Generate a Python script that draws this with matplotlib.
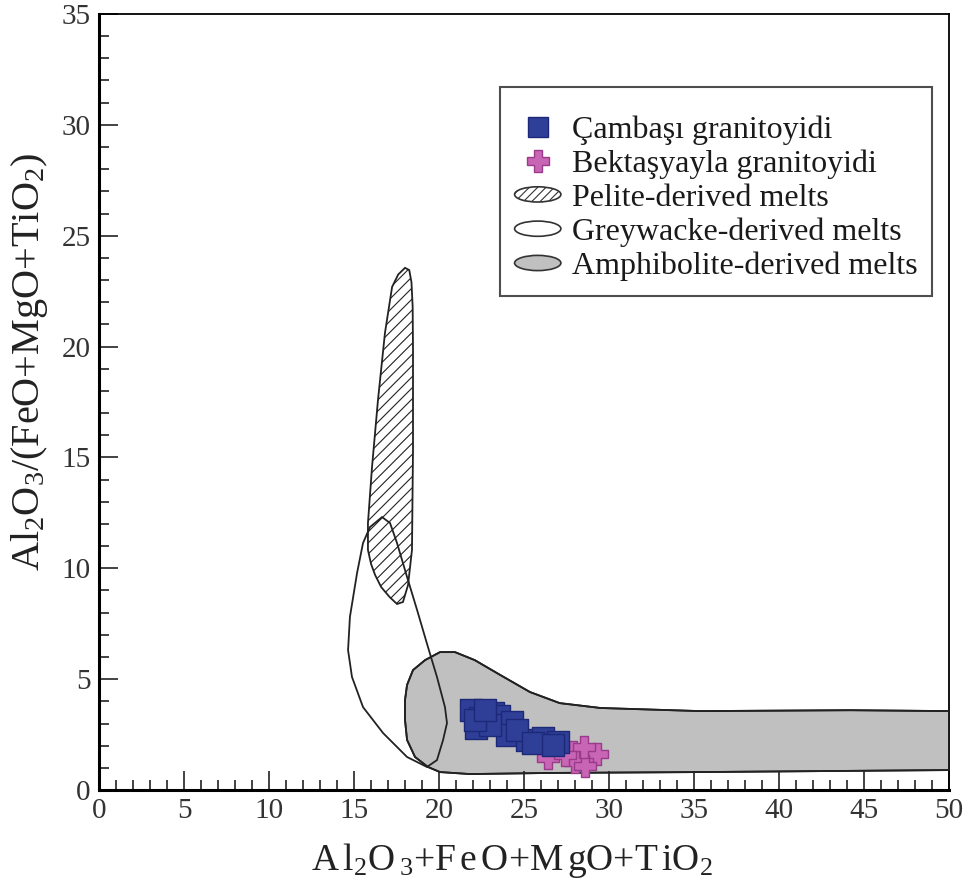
import numpy as np
import matplotlib
matplotlib.use('Agg')
import matplotlib.pyplot as plt
import matplotlib.patches as mpatches
from matplotlib.lines import Line2D
from matplotlib.legend_handler import HandlerPatch

plt.rcParams['font.family'] = ['Liberation Serif', 'DejaVu Serif']
plt.rcParams['mathtext.fontset'] = 'custom'
plt.rcParams['mathtext.rm'] = 'Liberation Serif'
plt.rcParams['mathtext.it'] = 'Liberation Serif:italic'
plt.rcParams['hatch.linewidth'] = 0.8

# Sample compositions: x = Al2O3+FeO+MgO+TiO2, y = Al2O3/(FeO+MgO+TiO2)
camb_x = [21.9, 22.4, 22.2, 23.2, 23.5, 24.3, 24.0, 25.2, 26.1, 24.6,
          25.5, 27.0, 23.0, 22.1, 22.7, 26.7]
camb_y = [3.61, 3.25, 2.80, 3.47, 3.34, 3.07, 2.48, 2.26, 2.35, 2.70,
          2.12, 2.17, 2.93, 3.16, 3.60, 2.03]

bekt_x = [26.4, 27.9, 28.6, 29.3, 28.0, 28.6, 28.5, 27.4]
bekt_y = [1.44, 1.71, 1.44, 1.62, 1.26, 1.08, 1.94, 1.58]

# Experimental melt fields (outline vertices)
pelite_x = [18.0, 17.6, 17.24, 16.82, 16.41, 16.06, 15.82, 15.82, 16.0,
            16.24, 16.6, 17.1, 17.53, 17.88, 18.18, 18.41, 18.47, 18.47,
            18.45, 18.38, 18.25]
pelite_y = [23.55, 23.25, 22.69, 20.61, 17.59, 14.57, 12.04, 10.83, 10.2,
            9.7, 9.15, 8.7, 8.39, 8.48, 9.25, 10.83, 15.34, 19.85,
            21.8, 22.9, 23.45]

greyw_x = [16.65, 15.94, 15.53, 15.18, 14.76, 14.65, 14.88, 15.53, 16.71,
           18.12, 19.29, 19.88, 20.24, 20.47, 20.35, 19.88, 19.35, 18.71,
           18.12, 17.53, 17.12]
greyw_y = [12.31, 11.86, 11.14, 9.79, 7.81, 6.31, 5.10, 3.74, 2.57,
           1.49, 1.04, 1.35, 2.26, 3.02, 3.74, 5.10, 6.45, 8.12,
           9.61, 11.14, 12.04]

amph_x = [18.47, 18.12, 18.0, 18.0, 18.12, 18.59, 19.35, 20.06, 21.82,
          26.5, 35.35, 50.0, 50.0, 44.2, 35.35, 29.5, 27.1, 25.35,
          23.6, 22.1, 20.94, 20.06, 19.18]
amph_y = [5.41, 4.74, 4.06, 3.16, 2.26, 1.49, 1.04, 0.81, 0.72,
          0.77, 0.81, 0.90, 3.56, 3.60, 3.56, 3.70, 3.92, 4.42,
          5.19, 5.86, 6.22, 6.22, 5.86]

labels = ['Çambaşı granitoyidi', 'Bektaşyayla granitoyidi',
          'Pelite-derived melts', 'Greywacke-derived melts',
          'Amphibolite-derived melts']


def make_ellipse(legend, orig_handle, xdescent, ydescent,
                 width, height, fontsize):
    return mpatches.Ellipse((width / 2 - xdescent, height / 2 - ydescent),
                            width, height * 0.75)


fig = plt.figure(figsize=(9.66, 8.84), dpi=100)
ax = fig.add_axes([0.1025, 0.1063, 0.8799, 0.8779])

amph = mpatches.Polygon(np.column_stack([amph_x, amph_y]), closed=True,
                        facecolor='#c0c0c0', edgecolor='#222222', lw=1.3,
                        zorder=1)
ax.add_patch(amph)

pel = mpatches.Polygon(np.column_stack([pelite_x, pelite_y]), closed=True,
                       facecolor='white', edgecolor='#222222', lw=1.3,
                       hatch='///', zorder=2)
ax.add_patch(pel)

grey = mpatches.Polygon(np.column_stack([greyw_x, greyw_y]), closed=True,
                        facecolor='none', edgecolor='#222222', lw=1.3,
                        zorder=3)
ax.add_patch(grey)

# redraw amphibolite outline above the other fields
ax.add_patch(mpatches.Polygon(np.column_stack([amph_x, amph_y]), closed=True,
                              facecolor='none', edgecolor='#222222', lw=1.3,
                              zorder=3))

ax.scatter(camb_x, camb_y, marker='s', s=240, facecolor='#2f3f98',
           edgecolor='#1e2878', linewidth=1.0, zorder=5)
ax.scatter(bekt_x, bekt_y, marker='P', s=240, facecolor='#c865b4',
           edgecolor='#9a3a8a', linewidth=1.0, zorder=4)

ax.set_xlim(0, 50)
ax.set_ylim(0, 35)
ax.set_xticks(np.arange(0, 51, 5))
ax.set_yticks(np.arange(0, 36, 5))
ax.set_xticks(np.arange(0, 51, 1), minor=True)
ax.set_yticks(np.arange(0, 36, 1), minor=True)
ax.tick_params(which='both', direction='in', top=False, right=False,
               width=1.2, labelsize=21, pad=6, colors='#222222')
ax.tick_params(which='major', length=14)
ax.tick_params(which='minor', length=7)
ax.tick_params(axis='x', labelcolor='#333333')
ax.tick_params(axis='y', labelcolor='#333333')

for side in ['left', 'bottom']:
    ax.spines[side].set_linewidth(2.2)
for side in ['top', 'right']:
    ax.spines[side].set_linewidth(1.3)

ax.set_xlabel(r'$\mathrm{A\,l_2O\,_3{+}F\,e\,O{+}M\,gO{+}T\,iO_2}$',
              fontsize=27, color='#222222')
ax.set_ylabel(r'$\mathrm{Al_2O_3/(FeO{+}MgO{+}TiO_2)}$',
              fontsize=29, color='#222222')
ax.xaxis.set_label_coords(0.486, -0.066)
ax.yaxis.set_label_coords(-0.058, 0.552)

handles = [
    Line2D([], [], ls='none', marker='s', ms=15, mfc='#2f3f98',
           mec='#1e2878'),
    Line2D([], [], ls='none', marker='P', ms=16, mfc='#c865b4',
           mec='#9a3a8a'),
    mpatches.Patch(facecolor='white', edgecolor='#333333', hatch='////',
                   lw=1.2),
    mpatches.Patch(facecolor='white', edgecolor='#333333', lw=1.2),
    mpatches.Patch(facecolor='#c0c0c0', edgecolor='#333333', lw=1.2),
]
leg = ax.legend(handles, labels, loc='upper left',
                bbox_to_anchor=(0.472, 0.906), fontsize=23,
                title=' ', title_fontsize=7,
                fancybox=False, frameon=True, edgecolor='#222222',
                handlelength=1.45, handleheight=0.6, handletextpad=0.35,
                labelspacing=0.15, borderpad=0.45, borderaxespad=0.0,
                handler_map={mpatches.Patch: HandlerPatch(patch_func=make_ellipse)})
leg.get_frame().set_linewidth(1.5)
for t in leg.get_texts():
    t.set_color('#1a1a1a')

fig.savefig('out.png', dpi=100)
